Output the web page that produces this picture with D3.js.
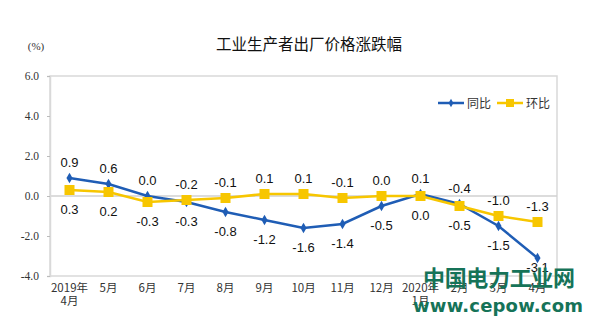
<!DOCTYPE html>
<html>
<head>
<meta charset="utf-8">
<script src="https://cdn.jsdelivr.net/npm/d3@7"></script>
<style>
  html, body { margin: 0; padding: 0; background: #fff; }
  svg { display: block; }
</style>
</head>
<body>
<svg id="chart" width="599" height="334"></svg>
<script>
// Month categories (first line / second line of the tick label)
const months = ["2019年|4月", "5月", "6月", "7月", "8月", "9月", "10月", "11月", "12月", "2020年|1月", "2月", "3月", "4月"];
// Year-on-year change (%)
const yoy = [0.9, 0.6, 0.0, -0.3, -0.8, -1.2, -1.6, -1.4, -0.5, 0.1, -0.4, -1.5, -3.1];
// Month-on-month change (%)
const mom = [0.3, 0.2, -0.3, -0.2, -0.1, 0.1, 0.1, -0.1, 0.0, 0.0, -0.5, -1.0, -1.3];
// Y axis ticks
const yTicks = [6.0, 4.0, 2.0, 0.0, -2.0, -4.0];
const seriesNames = ["同比", "环比"];

const blue = "#1f5db5";
const yellow = "#f7c600";

// Plain hyphen for negative numbers
const locale = d3.formatLocale({ decimal: ".", thousands: ",", grouping: [3], currency: ["", ""], minus: "-" });
const fmt = locale.format(".1f");

const svg = d3.select("#chart");
const m = { left: 50, right: 42, top: 76, bottom: 58 };
const W = 599, H = 334;

const x = d3.scaleBand().domain(months).range([m.left, W - m.right]);
const y = d3.scaleLinear().domain([-4, 6]).range([H - m.bottom, m.top]);
const cx = d => x(d) + x.bandwidth() / 2;

// Title
svg.append("text")
  .attr("x", 309).attr("y", 50)
  .attr("text-anchor", "middle")
  .attr("font-family", "'Noto Sans CJK SC', sans-serif")
  .attr("font-size", 15.5)
  .attr("fill", "#111")
  .text("工业生产者出厂价格涨跌幅");

// Unit label
svg.append("text")
  .attr("x", 36).attr("y", 50)
  .attr("text-anchor", "middle")
  .attr("font-family", "'Liberation Serif', serif")
  .attr("font-size", 11)
  .attr("fill", "#333")
  .text("(%)");

// Plot frame
svg.append("rect")
  .attr("x", m.left).attr("y", m.top)
  .attr("width", W - m.right - m.left).attr("height", H - m.bottom - m.top)
  .attr("fill", "none").attr("stroke", "#d9d9d9").attr("stroke-width", 1.5);

// Zero line
svg.append("line")
  .attr("x1", m.left).attr("x2", W - m.right)
  .attr("y1", y(0)).attr("y2", y(0))
  .attr("stroke", "#d0d0d0").attr("stroke-width", 1.5);

// Y axis
const yAxis = svg.append("g")
  .attr("transform", `translate(${m.left},0)`)
  .call(d3.axisLeft(y).tickValues(yTicks).tickFormat(fmt).tickSize(3).tickPadding(8));
yAxis.select(".domain").attr("stroke", "#d9d9d9").attr("stroke-width", 1.5);
yAxis.selectAll(".tick line").attr("stroke", "#bbb");
yAxis.selectAll(".tick text")
  .attr("font-family", "'Liberation Serif', serif")
  .attr("font-size", 11.5)
  .attr("fill", "#333");

// X axis tick labels (two lines where needed)
const xAxis = svg.append("g")
  .attr("transform", `translate(0,${H - m.bottom})`)
  .call(d3.axisBottom(x).tickSize(0).tickPadding(0).tickFormat(""));
xAxis.select(".domain").remove();
xAxis.selectAll(".tick").each(function(d) {
  const parts = d.split("|");
  const t = d3.select(this).append("text")
    .attr("text-anchor", "middle")
    .attr("font-family", "'Noto Sans CJK SC', sans-serif")
    .attr("font-size", 11.5)
    .attr("fill", "#333");
  parts.forEach((p, i) => {
    t.append("tspan").attr("x", 0).attr("y", 16 + i * 13).text(p);
  });
});

// Lines
const line = d3.line().x((d, i) => cx(months[i])).y(d => y(d));
svg.append("path").datum(yoy)
  .attr("d", line).attr("fill", "none")
  .attr("stroke", blue).attr("stroke-width", 2.5);
svg.append("path").datum(mom)
  .attr("d", line).attr("fill", "none")
  .attr("stroke", yellow).attr("stroke-width", 2.5);

// Markers
const diamond = d3.symbol().type(d3.symbolDiamond).size(32);
svg.append("g").selectAll("path").data(yoy).join("path")
  .attr("d", diamond)
  .attr("transform", (d, i) => `translate(${cx(months[i])},${y(d)})`)
  .attr("fill", blue);
svg.append("g").selectAll("rect").data(mom).join("rect")
  .attr("x", (d, i) => cx(months[i]) - 5)
  .attr("y", d => y(d) - 5)
  .attr("width", 10).attr("height", 10)
  .attr("fill", yellow);

// Value labels: the higher series of each month labelled above, the other below
// (labels below are kept inside the plot frame)
const labelFont = "'Liberation Sans', Arial, sans-serif";
const plotBottom = H - m.bottom;
function addLabels(vals, other) {
  svg.append("g").selectAll("text").data(vals).join("text")
    .attr("x", (d, i) => cx(months[i]))
    .attr("y", (d, i) => d >= other[i] ? y(d) - 11 : Math.min(y(d) + 24, plotBottom - 4))
    .attr("text-anchor", "middle")
    .attr("font-family", labelFont)
    .attr("font-size", 13)
    .attr("fill", "#111")
    .text(d => fmt(d));
}
addLabels(yoy, mom);
addLabels(mom, yoy);

// Legend
const legend = svg.append("g").attr("transform", "translate(438,103)");
[blue, yellow].forEach((c, i) => {
  const g = legend.append("g").attr("transform", `translate(${i * 59},0)`);
  g.append("line").attr("x1", 0).attr("x2", 26).attr("y1", 0).attr("y2", 0)
    .attr("stroke", c).attr("stroke-width", 2.5);
  if (i === 0) {
    g.append("path").attr("d", d3.symbol().type(d3.symbolDiamond).size(20)).attr("transform", "translate(13,0)").attr("fill", c);
  } else {
    g.append("rect").attr("x", 9).attr("y", -4).attr("width", 8).attr("height", 8).attr("fill", c);
  }
  g.append("text").attr("x", 29).attr("y", 4.5)
    .attr("font-family", "'Noto Sans CJK SC', sans-serif")
    .attr("font-size", 12).attr("fill", "#333")
    .text(seriesNames[i]);
});

// Site mark
svg.append("text")
  .attr("x", 423).attr("y", 286)
  .attr("font-family", "'Noto Sans CJK SC', sans-serif")
  .attr("font-weight", "bold")
  .attr("font-size", 22)
  .attr("textLength", 152)
  .attr("fill", "#167358")
  .text("中国电力工业网");
svg.append("text")
  .attr("x", 413).attr("y", 312)
  .attr("font-family", "'DejaVu Sans', sans-serif")
  .attr("font-weight", "bold")
  .attr("font-size", 18)
  .attr("textLength", 170)
  .attr("fill", "#167358")
  .text("www.cepow.com");
</script>
</body>
</html>
